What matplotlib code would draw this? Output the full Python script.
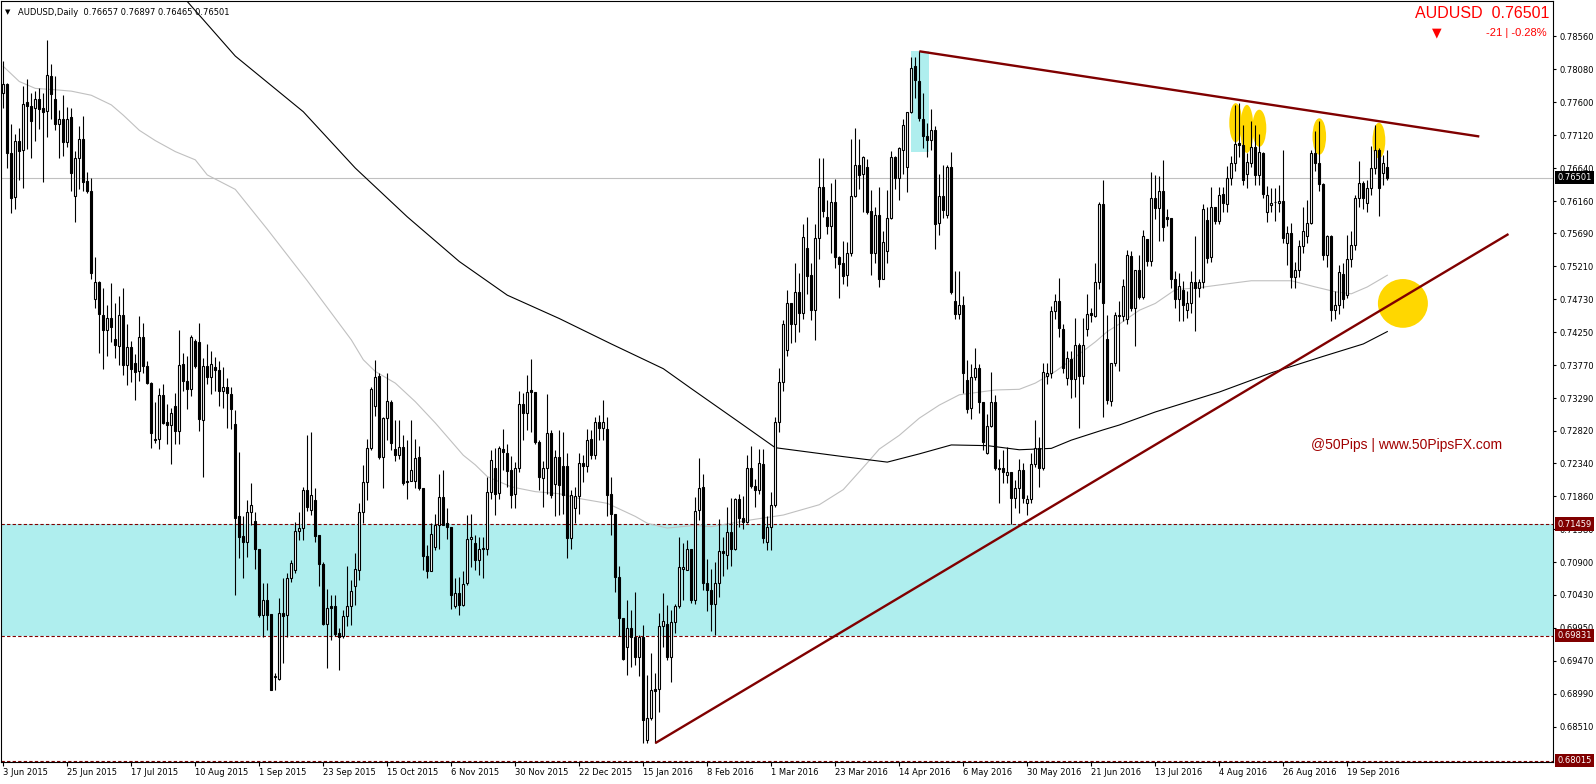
import numpy as np
import matplotlib
matplotlib.use('Agg')
import matplotlib.pyplot as plt
from matplotlib.patches import Ellipse, Rectangle

# AUDUSD daily candles, 3 Jun 2015 .. 3 Oct 2016
opens = [
    0.7774, 0.7786, 0.7686, 0.7622, 0.7703, 0.7690, 0.7760, 0.7754, 0.7752, 0.7765,
    0.7751, 0.7747, 0.7798, 0.7764, 0.7728, 0.7736, 0.7702, 0.7739, 0.7624, 0.7678,
    0.7707, 0.7645, 0.7631, 0.7474, 0.7498, 0.7450, 0.7428, 0.7446, 0.7415, 0.7405,
    0.7450, 0.7377, 0.7404, 0.7380, 0.7368, 0.7418, 0.7376, 0.7351, 0.7268, 0.7269,
    0.7334, 0.7294, 0.7290, 0.7318, 0.7282, 0.7379, 0.7354, 0.7342, 0.7413, 0.7411,
    0.7298, 0.7376, 0.7360, 0.7374, 0.7370, 0.7339, 0.7346, 0.7335, 0.7292, 0.7157,
    0.7128, 0.7120, 0.7164, 0.7150, 0.7110, 0.7013, 0.7036, 0.7015, 0.6923, 0.6921,
    0.7016, 0.7014, 0.7068, 0.7079, 0.7136, 0.7140, 0.7196, 0.7166, 0.7181, 0.7130,
    0.7088, 0.7001, 0.7026, 0.7027, 0.6987, 0.6983, 0.7012, 0.7027, 0.7055, 0.7079,
    0.7163, 0.7207, 0.7257, 0.7317, 0.7361, 0.7243, 0.7300, 0.7324, 0.7255, 0.7247,
    0.7258, 0.7209, 0.7209, 0.7209, 0.7243, 0.7199, 0.7100, 0.7078, 0.7112, 0.7144,
    0.7185, 0.7147, 0.7141, 0.7026, 0.7045, 0.7028, 0.7060, 0.7124, 0.7118, 0.7094,
    0.7110, 0.7109, 0.7193, 0.7227, 0.7191, 0.7255, 0.7250, 0.7224, 0.7190, 0.7227,
    0.7321, 0.7308, 0.7341, 0.7338, 0.7266, 0.7213, 0.7227, 0.7279, 0.7204, 0.7243,
    0.7231, 0.7231, 0.7126, 0.7169, 0.7187, 0.7234, 0.7230, 0.7270, 0.7246, 0.7294,
    0.7285, 0.7284, 0.7189, 0.7160, 0.7069, 0.7009, 0.6967, 0.6994, 0.6982, 0.6953,
    0.6982, 0.6831, 0.6863, 0.6906, 0.6906, 0.6997, 0.7001, 0.6952, 0.7003, 0.7026,
    0.7080, 0.7079, 0.7109, 0.7036, 0.7167, 0.7200, 0.7060, 0.7050, 0.7030, 0.7060,
    0.7107, 0.7101, 0.7135, 0.7109, 0.7182, 0.7154, 0.7149, 0.7227, 0.7201, 0.7195,
    0.7233, 0.7120, 0.7141, 0.7174, 0.7294, 0.7352, 0.7399, 0.7468, 0.7437, 0.7484,
    0.7453, 0.7548, 0.7509, 0.7458, 0.7562, 0.7636, 0.7593, 0.7579, 0.7614, 0.7534,
    0.7526, 0.7508, 0.7541, 0.7623, 0.7669, 0.7655, 0.7666, 0.7602, 0.7540, 0.7595,
    0.7503, 0.7544, 0.7592, 0.7680, 0.7649, 0.7691, 0.7665, 0.7745, 0.7813, 0.7791,
    0.7735, 0.7710, 0.7705, 0.7720, 0.7584, 0.7623, 0.7596, 0.7666, 0.7471, 0.7452,
    0.7464, 0.7355, 0.7315, 0.7360, 0.7373, 0.7323, 0.7249, 0.7288, 0.7324, 0.7228,
    0.7227, 0.7217, 0.7222, 0.7184, 0.7198, 0.7225, 0.7177, 0.7182, 0.7233, 0.7256,
    0.7227, 0.7362, 0.7365, 0.7456, 0.7471, 0.7430, 0.7358, 0.7386, 0.7357, 0.7407,
    0.7361, 0.7430, 0.7453, 0.7449, 0.7498, 0.7611, 0.7415, 0.7325, 0.7380, 0.7448,
    0.7449, 0.7445, 0.7536, 0.7460, 0.7515, 0.7477, 0.7561, 0.7529, 0.7621, 0.7606,
    0.7630, 0.7593, 0.7591, 0.7503, 0.7474, 0.7487, 0.7458, 0.7467, 0.7498, 0.7490,
    0.7498, 0.7589, 0.7534, 0.7607, 0.7587, 0.7626, 0.7612, 0.7650, 0.7671, 0.7701,
    0.7698, 0.7655, 0.7672, 0.7694, 0.7654, 0.7686, 0.7600, 0.7610, 0.7614, 0.7613,
    0.7616, 0.7555, 0.7570, 0.7506, 0.7515, 0.7550, 0.7565, 0.7584, 0.7686, 0.7671,
    0.7641, 0.7538, 0.7565, 0.7458, 0.7465, 0.7510, 0.7479, 0.7532, 0.7552, 0.7620,
    0.7642, 0.7613, 0.7635, 0.7664, 0.7691, 0.7657, 0.76657,
]
highs = [
    0.7820, 0.7788, 0.7728, 0.7713, 0.7723, 0.7784, 0.7793, 0.7774, 0.7776, 0.7781,
    0.7774, 0.7850, 0.7815, 0.7798, 0.7749, 0.7771, 0.7753, 0.7752, 0.7689, 0.7725,
    0.7740, 0.7658, 0.7650, 0.7534, 0.7500, 0.7490, 0.7465, 0.7497, 0.7468, 0.7478,
    0.7490, 0.7437, 0.7412, 0.7393, 0.7449, 0.7439, 0.7383, 0.7352, 0.7324, 0.7344,
    0.7349, 0.7320, 0.7315, 0.7337, 0.7429, 0.7395, 0.7391, 0.7421, 0.7415, 0.7439,
    0.7387, 0.7408, 0.7398, 0.7389, 0.7383, 0.7374, 0.7359, 0.7345, 0.7312, 0.7251,
    0.7157, 0.7181, 0.7205, 0.7164, 0.7110, 0.7060, 0.7060, 0.7015, 0.6929, 0.7038,
    0.7068, 0.7074, 0.7094, 0.7149, 0.7164, 0.7200, 0.7275, 0.7280, 0.7198, 0.7130,
    0.7090, 0.7052, 0.7043, 0.7042, 0.6994, 0.7021, 0.7085, 0.7065, 0.7103, 0.7176,
    0.7232, 0.7270, 0.7346, 0.7384, 0.7365, 0.7302, 0.7365, 0.7326, 0.7298, 0.7298,
    0.7275, 0.7268, 0.7297, 0.7270, 0.7259, 0.7199, 0.7115, 0.7147, 0.7161, 0.7218,
    0.7224, 0.7169, 0.7141, 0.7068, 0.7069, 0.7078, 0.7159, 0.7161, 0.7130, 0.7127,
    0.7127, 0.7215, 0.7254, 0.7256, 0.7259, 0.7284, 0.7262, 0.7245, 0.7236, 0.7340,
    0.7336, 0.7363, 0.7386, 0.7338, 0.7268, 0.7238, 0.7335, 0.7283, 0.7254, 0.7283,
    0.7280, 0.7249, 0.7195, 0.7200, 0.7250, 0.7246, 0.7284, 0.7283, 0.7302, 0.7305,
    0.7327, 0.7302, 0.7214, 0.7160, 0.7085, 0.7009, 0.7035, 0.7021, 0.7047, 0.6984,
    0.6999, 0.6926, 0.6958, 0.6929, 0.7016, 0.7045, 0.7028, 0.7021, 0.7030, 0.7127,
    0.7118, 0.7122, 0.7109, 0.7185, 0.7242, 0.7218, 0.7095, 0.7080, 0.7090, 0.7153,
    0.7127, 0.7171, 0.7184, 0.7184, 0.7190, 0.7186, 0.7246, 0.7259, 0.7211, 0.7255,
    0.7255, 0.7157, 0.7192, 0.7301, 0.7373, 0.7443, 0.7486, 0.7468, 0.7526, 0.7512,
    0.7583, 0.7593, 0.7526, 0.7583, 0.7678, 0.7678, 0.7617, 0.7642, 0.7648, 0.7536,
    0.7558, 0.7556, 0.7707, 0.7722, 0.7707, 0.7681, 0.7677, 0.7632, 0.7607, 0.7637,
    0.7573, 0.7632, 0.7689, 0.7681, 0.7694, 0.7735, 0.7746, 0.7826, 0.7826, 0.7834,
    0.7773, 0.7730, 0.7750, 0.7725, 0.7656, 0.7668, 0.7668, 0.7688, 0.7514, 0.7514,
    0.7478, 0.7385, 0.7379, 0.7402, 0.7379, 0.7323, 0.7306, 0.7367, 0.7333, 0.7241,
    0.7253, 0.7258, 0.7222, 0.7210, 0.7241, 0.7234, 0.7188, 0.7249, 0.7298, 0.7273,
    0.7380, 0.7380, 0.7463, 0.7481, 0.7504, 0.7437, 0.7398, 0.7398, 0.7446, 0.7410,
    0.7446, 0.7480, 0.7461, 0.7526, 0.7614, 0.7647, 0.7450, 0.7381, 0.7455, 0.7471,
    0.7502, 0.7545, 0.7544, 0.7516, 0.7538, 0.7574, 0.7561, 0.7658, 0.7654, 0.7652,
    0.7676, 0.7605, 0.7591, 0.7514, 0.7512, 0.7499, 0.7485, 0.7514, 0.7565, 0.7502,
    0.7611, 0.7607, 0.7637, 0.7608, 0.7637, 0.7637, 0.7667, 0.7681, 0.7756, 0.7759,
    0.7727, 0.7686, 0.7732, 0.7727, 0.7713, 0.7688, 0.7638, 0.7635, 0.7635, 0.7640,
    0.7691, 0.7580, 0.7584, 0.7528, 0.7560, 0.7608, 0.7618, 0.7691, 0.7718, 0.7732,
    0.7642, 0.7567, 0.7567, 0.7485, 0.7523, 0.7526, 0.7567, 0.7572, 0.7625, 0.7674,
    0.7645, 0.7647, 0.7696, 0.7727, 0.7693, 0.7683, 0.76897,
]
lows = [
    0.7752, 0.7664, 0.7598, 0.7604, 0.7646, 0.7635, 0.7692, 0.7678, 0.7704, 0.7721,
    0.7644, 0.7709, 0.7736, 0.7720, 0.7679, 0.7681, 0.7695, 0.7630, 0.7586, 0.7634,
    0.7630, 0.7628, 0.7503, 0.7461, 0.7395, 0.7371, 0.7391, 0.7411, 0.7388, 0.7378,
    0.7363, 0.7348, 0.7352, 0.7326, 0.7354, 0.7366, 0.7349, 0.7256, 0.7264, 0.7255,
    0.7291, 0.7262, 0.7233, 0.7262, 0.7262, 0.7340, 0.7313, 0.7332, 0.7373, 0.7282,
    0.7214, 0.7349, 0.7335, 0.7340, 0.7318, 0.7315, 0.7285, 0.7284, 0.7043, 0.7096,
    0.7068, 0.7098, 0.7144, 0.7081, 0.7011, 0.6982, 0.6992, 0.6904, 0.6904, 0.6919,
    0.6944, 0.6981, 0.7062, 0.7074, 0.7123, 0.7123, 0.7165, 0.7159, 0.7120, 0.7055,
    0.6999, 0.6937, 0.6977, 0.6983, 0.6933, 0.6980, 0.6997, 0.6999, 0.7028, 0.7064,
    0.7147, 0.7181, 0.7254, 0.7303, 0.7241, 0.7198, 0.7268, 0.7254, 0.7237, 0.7241,
    0.7203, 0.7182, 0.7208, 0.7198, 0.7195, 0.7079, 0.7067, 0.7077, 0.7108, 0.7110,
    0.7144, 0.7124, 0.7022, 0.7023, 0.7013, 0.7026, 0.7057, 0.7084, 0.7079, 0.7072,
    0.7067, 0.7101, 0.7183, 0.7159, 0.7183, 0.7224, 0.7200, 0.7169, 0.7169, 0.7221,
    0.7268, 0.7283, 0.7280, 0.7263, 0.7195, 0.7171, 0.7189, 0.7184, 0.7158, 0.7159,
    0.7160, 0.7096, 0.7110, 0.7148, 0.7161, 0.7207, 0.7222, 0.7241, 0.7241, 0.7268,
    0.7268, 0.7157, 0.7130, 0.7047, 0.6983, 0.6948, 0.6926, 0.6938, 0.6941, 0.6924,
    0.6827, 0.6827, 0.6860, 0.6827, 0.6873, 0.6967, 0.6948, 0.6916, 0.6987, 0.7024,
    0.7035, 0.7079, 0.7031, 0.7030, 0.7152, 0.7050, 0.7020, 0.6990, 0.6985, 0.7040,
    0.7070, 0.7080, 0.7085, 0.7108, 0.7142, 0.7139, 0.7147, 0.7198, 0.7171, 0.7189,
    0.7119, 0.7108, 0.7108, 0.7171, 0.7280, 0.7339, 0.7391, 0.7409, 0.7411, 0.7426,
    0.7445, 0.7480, 0.7443, 0.7414, 0.7531, 0.7593, 0.7568, 0.7541, 0.7519, 0.7475,
    0.7495, 0.7492, 0.7536, 0.7622, 0.7634, 0.7600, 0.7597, 0.7509, 0.7526, 0.7491,
    0.7502, 0.7526, 0.7590, 0.7634, 0.7617, 0.7656, 0.7629, 0.7744, 0.7766, 0.7732,
    0.7693, 0.7680, 0.7690, 0.7546, 0.7567, 0.7591, 0.7591, 0.7480, 0.7445, 0.7445,
    0.7336, 0.7307, 0.7299, 0.7355, 0.7307, 0.7253, 0.7248, 0.7287, 0.7224, 0.7176,
    0.7205, 0.7205, 0.7146, 0.7169, 0.7162, 0.7176, 0.7159, 0.7176, 0.7229, 0.7200,
    0.7225, 0.7350, 0.7358, 0.7445, 0.7418, 0.7365, 0.7348, 0.7330, 0.7331, 0.7285,
    0.7350, 0.7420, 0.7440, 0.7447, 0.7488, 0.7302, 0.7321, 0.7317, 0.7376, 0.7369,
    0.7442, 0.7437, 0.7456, 0.7405, 0.7473, 0.7473, 0.7521, 0.7521, 0.7590, 0.7558,
    0.7558, 0.7580, 0.7490, 0.7460, 0.7441, 0.7441, 0.7446, 0.7453, 0.7427, 0.7477,
    0.7490, 0.7526, 0.7527, 0.7582, 0.7583, 0.7600, 0.7600, 0.7640, 0.7660, 0.7680,
    0.7640, 0.7635, 0.7666, 0.7640, 0.7640, 0.7620, 0.7586, 0.7600, 0.7587, 0.7600,
    0.7555, 0.7523, 0.7490, 0.7490, 0.7505, 0.7540, 0.7555, 0.7582, 0.7660, 0.7630,
    0.7530, 0.7520, 0.7441, 0.7445, 0.7451, 0.7460, 0.7475, 0.7520, 0.7545, 0.7608,
    0.7605, 0.7600, 0.7625, 0.7655, 0.7594, 0.7640, 0.76465,
]
closes = [
    0.7786, 0.7686, 0.7621, 0.7703, 0.7689, 0.7758, 0.7754, 0.7733, 0.7765, 0.7750,
    0.7746, 0.7799, 0.7772, 0.7728, 0.7735, 0.7702, 0.7736, 0.7657, 0.7678, 0.7707,
    0.7644, 0.7631, 0.7512, 0.7498, 0.7451, 0.7428, 0.7446, 0.7433, 0.7406, 0.7450,
    0.7377, 0.7404, 0.7371, 0.7367, 0.7418, 0.7376, 0.7351, 0.7279, 0.7270, 0.7334,
    0.7293, 0.7290, 0.7307, 0.7282, 0.7377, 0.7354, 0.7342, 0.7418, 0.7376, 0.7299,
    0.7376, 0.7360, 0.7379, 0.7370, 0.7339, 0.7346, 0.7336, 0.7313, 0.7155, 0.7127,
    0.7120, 0.7164, 0.7173, 0.7110, 0.7013, 0.7036, 0.7013, 0.6904, 0.6925, 0.7016,
    0.7012, 0.7068, 0.7089, 0.7136, 0.7140, 0.7196, 0.7171, 0.7188, 0.7129, 0.7087,
    0.7001, 0.7023, 0.7023, 0.6986, 0.6982, 0.7012, 0.7027, 0.7048, 0.7080, 0.7163,
    0.7207, 0.7257, 0.7343, 0.7360, 0.7244, 0.7300, 0.7325, 0.7264, 0.7247, 0.7258,
    0.7206, 0.7207, 0.7225, 0.7242, 0.7199, 0.7100, 0.7078, 0.7132, 0.7145, 0.7185,
    0.7145, 0.7141, 0.7043, 0.7045, 0.7028, 0.7059, 0.7124, 0.7127, 0.7094, 0.7110,
    0.7111, 0.7193, 0.7239, 0.7190, 0.7256, 0.7251, 0.7223, 0.7188, 0.7228, 0.7321,
    0.7308, 0.7338, 0.7338, 0.7266, 0.7214, 0.7228, 0.7279, 0.7188, 0.7243, 0.7203,
    0.7188, 0.7126, 0.7188, 0.7187, 0.7234, 0.7230, 0.7268, 0.7246, 0.7294, 0.7285,
    0.7294, 0.7188, 0.7160, 0.7069, 0.7009, 0.6950, 0.6994, 0.6982, 0.6953, 0.6982,
    0.6860, 0.6863, 0.6905, 0.6903, 0.6997, 0.7005, 0.6952, 0.7003, 0.7026, 0.7083,
    0.7083, 0.7109, 0.7036, 0.7165, 0.7199, 0.7060, 0.7050, 0.7030, 0.7060, 0.7107,
    0.7104, 0.7135, 0.7109, 0.7182, 0.7154, 0.7149, 0.7227, 0.7201, 0.7195, 0.7234,
    0.7125, 0.7141, 0.7174, 0.7294, 0.7352, 0.7437, 0.7468, 0.7437, 0.7484, 0.7453,
    0.7563, 0.7507, 0.7458, 0.7562, 0.7636, 0.7601, 0.7579, 0.7615, 0.7534, 0.7525,
    0.7507, 0.7541, 0.7623, 0.7669, 0.7654, 0.7680, 0.7600, 0.7540, 0.7595, 0.7503,
    0.7556, 0.7592, 0.7680, 0.7649, 0.7693, 0.7726, 0.7745, 0.7810, 0.7792, 0.7737,
    0.7710, 0.7705, 0.7720, 0.7583, 0.7623, 0.7603, 0.7666, 0.7483, 0.7452, 0.7464,
    0.7365, 0.7314, 0.7360, 0.7373, 0.7323, 0.7265, 0.7288, 0.7324, 0.7227, 0.7226,
    0.7222, 0.7222, 0.7184, 0.7198, 0.7225, 0.7184, 0.7182, 0.7233, 0.7256, 0.7227,
    0.7367, 0.7365, 0.7456, 0.7471, 0.7431, 0.7373, 0.7388, 0.7357, 0.7407, 0.7362,
    0.7407, 0.7452, 0.7450, 0.7498, 0.7611, 0.7468, 0.7327, 0.7380, 0.7450, 0.7450,
    0.7493, 0.7537, 0.7461, 0.7515, 0.7477, 0.7565, 0.7529, 0.7621, 0.7606, 0.7630,
    0.7578, 0.7590, 0.7503, 0.7474, 0.7493, 0.7464, 0.7467, 0.7498, 0.7490, 0.7498,
    0.7605, 0.7533, 0.7607, 0.7587, 0.7625, 0.7613, 0.7650, 0.7672, 0.7699, 0.7698,
    0.7646, 0.7673, 0.7694, 0.7654, 0.7688, 0.7626, 0.7625, 0.7613, 0.7615, 0.7616,
    0.7562, 0.7570, 0.7506, 0.7515, 0.7550, 0.7572, 0.7584, 0.7686, 0.7671, 0.7641,
    0.7538, 0.7565, 0.7458, 0.7465, 0.7513, 0.7474, 0.7532, 0.7552, 0.7620, 0.7642,
    0.7620, 0.7635, 0.7664, 0.7691, 0.7635, 0.7671, 0.76501,
]

# moving averages as drawn on the chart (bar index, value)
ma_slow_idx = [45, 50, 58, 75, 88, 101, 114, 126, 139, 152, 165, 172, 184, 193, 210,
               221, 229, 237, 246, 254, 262, 267, 275, 279, 288, 304, 317, 330, 340, 346]
ma_slow_val = [0.7913, 0.7880, 0.7827, 0.7746, 0.7664, 0.7593, 0.7528, 0.7479, 0.7445,
               0.7408, 0.7372, 0.7343, 0.7294, 0.7257, 0.7244, 0.7236, 0.7248, 0.7261,
               0.7260, 0.7254, 0.7256, 0.7268, 0.7283, 0.7290, 0.7309, 0.7338, 0.7366,
               0.7390, 0.7408, 0.7426]
ma_fast_idx = [0, 4, 8, 13, 17, 22, 27, 30, 34, 38, 43, 48, 51, 58, 66, 76, 87, 90, 93,
               98, 103, 108, 115, 118, 121, 127, 133, 139, 144, 151, 158, 161, 166, 173,
               177, 187, 195, 204, 210, 216, 219, 224, 229, 234, 239, 248, 254, 258, 263,
               268, 273, 276, 279, 284, 288, 293, 299, 308, 312, 322, 328, 333, 337, 341, 346]
ma_fast_val = [0.7812, 0.7790, 0.7780, 0.7778, 0.7776, 0.7770, 0.7756, 0.7741, 0.7719,
               0.7704, 0.7688, 0.7676, 0.7654, 0.7633, 0.7575, 0.7500, 0.7414, 0.7385,
               0.7368, 0.7351, 0.7324, 0.7293, 0.7246, 0.7232, 0.7215, 0.7200, 0.7193,
               0.7190, 0.7183, 0.7176, 0.7157, 0.7147, 0.7140, 0.7144, 0.7142, 0.7152,
               0.7159, 0.7174, 0.7196, 0.7235, 0.7255, 0.7275, 0.7300, 0.7319, 0.7334,
               0.7341, 0.7342, 0.7351, 0.7368, 0.7389, 0.7411, 0.7426, 0.7437, 0.7457,
               0.7467, 0.7487, 0.7490, 0.7497, 0.7500, 0.7500, 0.7491, 0.7484, 0.7481,
               0.7491, 0.7508]

date_labels = ['3 Jun 2015', '25 Jun 2015', '17 Jul 2015', '10 Aug 2015', '1 Sep 2015',
               '23 Sep 2015', '15 Oct 2015', '6 Nov 2015', '30 Nov 2015', '22 Dec 2015',
               '15 Jan 2016', '8 Feb 2016', '1 Mar 2016', '23 Mar 2016', '14 Apr 2016',
               '6 May 2016', '30 May 2016', '21 Jun 2016', '13 Jul 2016', '4 Aug 2016',
               '26 Aug 2016', '19 Sep 2016']
price_ticks = [0.78560, 0.78080, 0.77600, 0.77120, 0.76640, 0.76160, 0.75690, 0.75210,
               0.74730, 0.74250, 0.73770, 0.73290, 0.72820, 0.72340, 0.71860, 0.71380,
               0.70900, 0.70430, 0.69950, 0.69470, 0.68990, 0.68510]
zone_top, zone_bottom, level_low = 0.71459, 0.69831, 0.68015
last_price = 0.76501
change_pips = -21
change_pct = -0.28

W, H = 1596, 784
plt.rcParams['font.family'] = ['DejaVu Sans']
fig = plt.figure(figsize=(W / 100, H / 100), dpi=100)
ax = fig.add_axes([1 / W, 1 - 762 / H, 1552 / W, 761 / H])
ax.set_xlim(-0.575, 387.425)
ax.set_ylim(0.67995, 0.79072)

MAROON = '#800000'
CYAN = '#AFEEEE'

# support / resistance zone
ax.axhspan(zone_bottom, zone_top, color=CYAN, lw=0, zorder=0)
for lvl in (zone_top, zone_bottom, level_low):
    ax.axhline(lvl, color=MAROON, lw=0.8, ls=(0, (3, 2)), zorder=1)
ax.axhline(last_price, color='#C0C0C0', lw=0.8, zorder=1)

# box around the April top
ax.add_patch(Rectangle((226.9, 0.7687), 4.6, 0.0147, color=CYAN, lw=0, zorder=0))

# yellow highlights
for cx, cy, w, h in [(308.1, 0.7730, 3.2, 0.0057), (310.9, 0.7721, 3.3, 0.0070),
                     (314.0, 0.7722, 3.5, 0.0054), (329.0, 0.7710, 3.4, 0.0053),
                     (343.9, 0.7704, 3.2, 0.0052), (349.9, 0.7467, 12.5, 0.0071)]:
    ax.add_patch(Ellipse((cx, cy), w, h, color='#FFD700', lw=0, zorder=1.5))

# moving averages
ax.plot(ma_fast_idx, ma_fast_val, color='#C0C0C0', lw=0.8, zorder=2)
ax.plot(ma_slow_idx, ma_slow_val, color='black', lw=0.8, zorder=2)

# candles
n = min(len(opens), len(highs), len(lows), len(closes))
x = np.arange(n)
o = np.array(opens[:n]); c = np.array(closes[:n])
hi = np.array(highs[:n]); lo = np.array(lows[:n])
up = c >= o
ax.vlines(x, lo, hi, color='black', lw=0.8, zorder=3)
bot = np.minimum(o, c)
hgt = np.maximum(np.abs(c - o), 0.00003)
ax.bar(x[up], hgt[up], bottom=bot[up], width=0.5, color='white', edgecolor='black',
       lw=0.8, zorder=4)
ax.bar(x[~up], hgt[~up], bottom=bot[~up], width=0.5, color='black', edgecolor='black',
       lw=0.8, zorder=4)

# trend lines
ax.plot([163, 376.3], [0.6827, 0.7568], color=MAROON, lw=1.7, zorder=5,
        solid_capstyle='butt')
ax.plot([229, 369], [0.7834, 0.7710], color=MAROON, lw=1.7, zorder=5,
        solid_capstyle='butt')

# axes styling
for s in ax.spines.values():
    s.set_color('black')
    s.set_linewidth(0.8)
ax.yaxis.tick_right()
ax.set_yticks(price_ticks)
ax.set_yticklabels([f'{v:.5f}' for v in price_ticks])
ax.tick_params(axis='y', direction='out', length=2.5, width=0.8, pad=2, labelsize=6)
ax.set_xticks(np.arange(len(date_labels)) * 16)
ax.set_xticklabels(date_labels)
for lab in ax.get_xticklabels():
    lab.set_horizontalalignment('left')
ax.tick_params(axis='x', direction='out', length=3, width=0.8, pad=1.5, labelsize=6)


def price_tag(value, fc):
    ax.annotate(f'{value:.5f}', xy=(1, value), xycoords=('axes fraction', 'data'),
                xytext=(3, 0), textcoords='offset points', va='center', ha='left',
                fontsize=6, color='white', annotation_clip=False, zorder=10,
                bbox=dict(boxstyle='square,pad=0.25', fc=fc, ec='none'))


price_tag(last_price, 'black')
for lvl in (zone_top, zone_bottom, level_low):
    price_tag(lvl, MAROON)

# header texts
fig.text(5 / W, 1 - 12.5 / H, '\u25bc', fontsize=5, va='center', ha='left')
fig.text(18 / W, 1 - 12.5 / H,
         f'AUDUSD,Daily  {opens[-1]:.5f} {highs[-1]:.5f} {lows[-1]:.5f} {closes[-1]:.5f}',
         fontsize=6, va='center', ha='left')
fig.text(1549 / W, 1 - 13.5 / H, f'AUDUSD  {last_price:.5f}', color='red',
         fontsize=11.5, family='Liberation Sans', va='center', ha='right')
fig.text(1547 / W, 1 - 32.5 / H, f'{change_pips} | {change_pct:.2f}%', color='red',
         fontsize=8, family='Liberation Sans', va='center', ha='right')
fig.text(1437 / W, 1 - 33 / H, '\u25bc', color='red', fontsize=9, va='center',
         ha='center')
fig.text(1311 / W, 1 - 445 / H, '@50Pips | www.50PipsFX.com', color='#A00000',
         fontsize=10, family='Liberation Sans', va='center', ha='left')

fig.savefig('out.png', dpi=100, facecolor='white')
